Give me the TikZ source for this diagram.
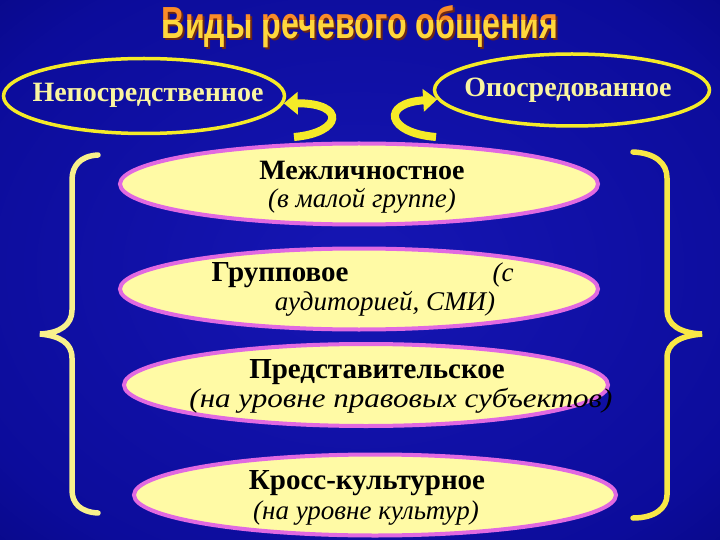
\documentclass[tikz,border=0pt]{standalone}
\usepackage{fontspec}
\setmainfont{Liberation Serif}
\newfontfamily\bannerfont{Liberation Sans}
\usetikzlibrary{shapes.geometric,arrows.meta}
\definecolor{bgdark}{RGB}{0,0,40}
\definecolor{bgmid}{RGB}{2,2,105}
\definecolor{bgside}{RGB}{12,12,155}
\definecolor{bglight}{RGB}{22,22,180}
\definecolor{ovalfill}{RGB}{255,250,165}
\definecolor{ovalline}{RGB}{225,105,225}
\definecolor{ringyellow}{RGB}{245,235,40}
\definecolor{ringtext}{RGB}{250,245,160}
\definecolor{braceleft}{RGB}{248,240,140}
\definecolor{braceright}{RGB}{248,232,70}
\definecolor{titleorange}{RGB}{250,140,40}
\definecolor{titleyellow}{RGB}{255,215,60}
\definecolor{titleshade}{RGB}{110,40,20}
\pgfdeclareradialshading{backglow}{\pgfpoint{0bp}{0bp}}{color(0bp)=(bglight); color(30bp)=(bgside); color(50bp)=(bgmid); color(71bp)=(bgdark)}
\newcommand\bannerline{\resizebox{396pt}{33pt}{\bannerfont\bfseries Виды речевого общения}}

\tikzset{
  kind/.style={ellipse, draw=ringyellow, line width=3.5pt, inner sep=0pt},
  level/.style={ellipse, draw=ovalline, fill=ovalfill, line width=4pt, inner sep=0pt},
  kindtext/.style={font=\fontsize{28}{32}\selectfont\bfseries, text=ringtext},
  head/.style={font=\fontsize{29}{33}\selectfont\bfseries, text=black},
  note/.style={font=\fontsize{27}{31}\selectfont\itshape, text=black},
  turn/.style={ringyellow, line width=8pt, -{Triangle[width=22pt,length=14pt]}},
  brace/.style={line width=5.5pt, line cap=round},
}

\begin{document}
\begin{tikzpicture}[x=1pt,y=-1pt]
  \useasboundingbox (0,0) rectangle (720,540);
  \shade[shading=backglow] (0,0) rectangle (720,540);

  % title
  \node[inner sep=0pt, anchor=base, text=titleshade] (titleshadow) at (362,41) {\bannerline};
  \begin{scope}
    \clip (0,0) rectangle (720,21);
    \node[inner sep=0pt, anchor=base, text=titleorange] (titletop) at (360,39) {\bannerline};
  \end{scope}
  \begin{scope}
    \clip (0,21) rectangle (720,60);
    \node[inner sep=0pt, anchor=base, text=titleyellow] (titlebottom) at (360,39) {\bannerline};
  \end{scope}

  % two kinds
  \node[kind, minimum width=281pt, minimum height=75pt] (direct) at (144,96) {};
  \node[kindtext] (directtext) at (148,95) {Непосредственное};
  \node[kind, minimum width=275pt, minimum height=72pt] (mediated) at (572,90) {};
  \node[kindtext] (mediatedtext) at (568,90) {Опосредованное};

  \coordinate (turnl) at (294,137);
  \coordinate (turnr) at (436,137);
  \draw[turn] (turnl) .. controls (342,133) and (347,103) .. (direct.-3);
  \draw[turn] (turnr) .. controls (386,133) and (381,103) .. (mediated.-176);

  % four levels
  \node[level, minimum width=478pt, minimum height=81pt] (e1) at (359,184) {};
  \node[level, minimum width=478pt, minimum height=81pt] (e2) at (359,289) {};
  \node[level, minimum width=484pt, minimum height=82pt] (e3) at (366,385) {};
  \node[level, minimum width=482pt, minimum height=81pt] (e4) at (375,495) {};

  \node[head, font=\fontsize{28}{32}\selectfont\bfseries] (t1a) at (362,170) {Межличностное};
  \node[note] (t1b) at (362,201) {(в малой группе)};
  \node[head] (t2a) at (280,275) {Групповое};
  \node[note] (t2b) at (503,275) {(с};
  \node[note] (t2c) at (385,304) {аудиторией, СМИ)};
  \node[head] (t3a) at (377,372) {Представительское};
  \node[note] (t3b) at (401,401) {\scalebox{1.15}[1]{(на уровне правовых субъектов)}};
  \node[head] (t4a) at (367,483) {Кросс-культурное};
  \node[note] (t4b) at (366,513) {(на уровне культур)};

  % braces
  \draw[brace, braceleft] (98,155) .. controls (80,156) and (72,166) .. (72,180)
    -- (72,310) .. controls (72,325) and (60,333) .. (40,334)
    .. controls (60,336) and (72,343) .. (72,358)
    -- (72,490) .. controls (72,503) and (80,512) .. (98,513);
  \draw[brace, braceright] (633,152) .. controls (655,153) and (667,163) .. (667,178)
    -- (667,310) .. controls (667,325) and (680,333) .. (702,334)
    .. controls (680,336) and (667,343) .. (667,358)
    -- (667,495) .. controls (667,508) and (655,518) .. (633,518);
\end{tikzpicture}
\end{document}
